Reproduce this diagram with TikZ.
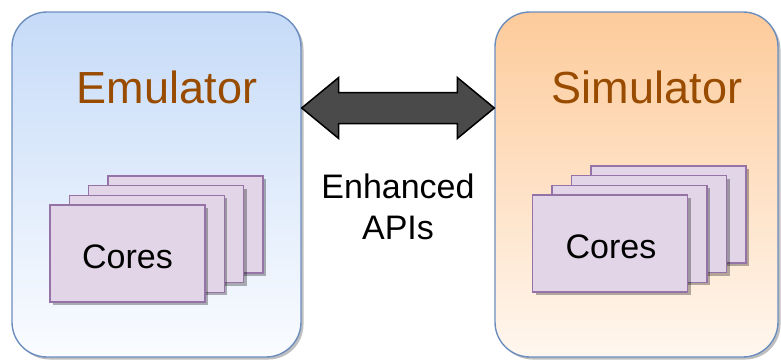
\documentclass[tikz,border=0pt]{standalone}
\usepackage{fontspec}
\setmainfont{Liberation Sans}
\usetikzlibrary{shadows,calc}
\definecolor{emutop}{HTML}{C6DBF8}
\definecolor{emubot}{HTML}{FAFCFF}
\definecolor{simtop}{HTML}{FDCB9B}
\definecolor{simbot}{HTML}{FFF7EF}
\definecolor{boxline}{HTML}{6C8EBF}
\definecolor{corefill}{HTML}{E1D5E7}
\definecolor{coreline}{HTML}{9673A6}
\definecolor{titlecol}{HTML}{994C00}
\definecolor{arrowfill}{HTML}{4A4A4A}
\begin{document}
\begin{tikzpicture}[x=1pt,y=-1pt,
  bigbox/.style={draw=boxline,line width=1.4pt,rounded corners=35pt,
    minimum height=345pt,inner sep=0pt,
    drop shadow={shadow xshift=2.5pt,shadow yshift=-2.5pt,fill=black,opacity=.25}},
  corebox/.style={draw=coreline,line width=1.3pt,fill=corefill,
    minimum width=155pt,minimum height=97pt,inner sep=0pt,
    drop shadow={shadow xshift=3pt,shadow yshift=-3pt,fill=black,opacity=.3}},
  title/.style={text=titlecol,font=\fontsize{45}{54}\selectfont,anchor=base,inner sep=0pt},
  lbl/.style={text=black,font=\fontsize{34}{41}\selectfont,anchor=base,inner sep=0pt},
  bigarrow/.style={draw=black,line width=1.5pt,fill=arrowfill,line join=miter}]
\useasboundingbox (0,0) rectangle (781,362);
% containers
\node[bigbox,minimum width=289pt,top color=emutop,bottom color=emubot] (emu) at (156.5,184.5) {};
\node[bigbox,minimum width=283pt,top color=simtop,bottom color=simbot] (sim) at (636.5,184.5) {};
\node[title] (emut) at (167,103) {Emulator};
\node[title] (simt) at (647,103) {Simulator};
% emulator cores
\node[corebox] (ec4) at (185.5,224.4) {};
\node[corebox] (ec3) at (166.2,234.1) {};
\node[corebox] (ec2) at (146.8,243.8) {};
\node[corebox] (ec1) at (127.5,253.5) {};
\node[lbl] (ecl) at (127.5,268) {Cores};
% simulator cores
\node[corebox] (sc4) at (668.5,214.4) {};
\node[corebox] (sc3) at (649.0,224.1) {};
\node[corebox] (sc2) at (629.5,233.8) {};
\node[corebox] (sc1) at (610,243.5) {};
\node[lbl] (scl) at (611,258) {Cores};
% double arrow between the two boxes
\coordinate (lt) at (emu.east |- 0,108);
\coordinate (rt) at (sim.west |- 0,108);
\draw[bigarrow] (lt) -- ++(37,-30.5) -- ++(0,15) -- ($(rt)+(-37,-15.5)$) -- ++(0,-15) -- (rt)
  -- ++(-37,30.5) -- ++(0,-15) -- ($(lt)+(37,15.5)$) -- ++(0,15) -- cycle;
\node[lbl,align=center,anchor=north] (api) at (398,174) {Enhanced\\APIs};
\end{tikzpicture}
\end{document}
